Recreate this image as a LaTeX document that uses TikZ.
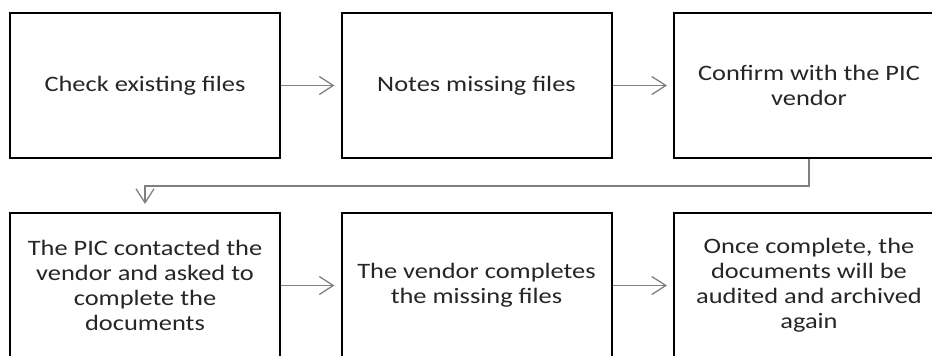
\documentclass[tikz,border=0pt]{standalone}
\usepackage{fontspec}
\setmainfont{Carlito}[FakeStretch=1.2]
\usetikzlibrary{arrows.meta}
\definecolor{inkgray}{HTML}{262626}
\definecolor{linkgray}{HTML}{808080}
\begin{document}
\begin{tikzpicture}[x=1pt,y=-1pt,
  stepbox/.style={draw=black, line width=2pt, fill=white,
    minimum width=270pt, minimum height=145pt, inner sep=0pt,
    align=center, text=inkgray, font=\fontsize{22}{25}\selectfont},
  link/.style={draw=linkgray, line width=1.3pt,
    -{Straight Barb[length=14pt,width=18pt,line width=1.3pt]}}]
  \useasboundingbox (0,0) rectangle (932,356);
  \clip (0,0) rectangle (932,356);
  % top row
  \node[stepbox] (s1) at (145,85.5) {Check existing files};
  \node[stepbox] (s2) at (476.5,85.5) {Notes missing files};
  \node[stepbox] (s3) at (809,85.5) {Confirm with the PIC\\vendor};
  % bottom row
  \node[stepbox] (s4) at (145,285.5) {The PIC contacted the\\vendor and asked to\\complete the\\documents};
  \node[stepbox] (s5) at (476.5,285.5) {The vendor completes\\the missing files};
  \node[stepbox] (s6) at (809,285.5) {Once complete, the\\documents will be\\audited and archived\\again};
  % connectors
  \draw[link, shorten >=6pt] (s1.east) -- (s2.west);
  \draw[link, shorten >=6pt] (s2.east) -- (s3.west);
  \coordinate (bend) at (0,186);
  \draw[link, shorten >=8pt] (s3.south) |- (bend -| s4.north) -- (s4.north);
  \draw[link, shorten >=6pt] (s4.east) -- (s5.west);
  \draw[link, shorten >=6pt] (s5.east) -- (s6.west);
\end{tikzpicture}
\end{document}
